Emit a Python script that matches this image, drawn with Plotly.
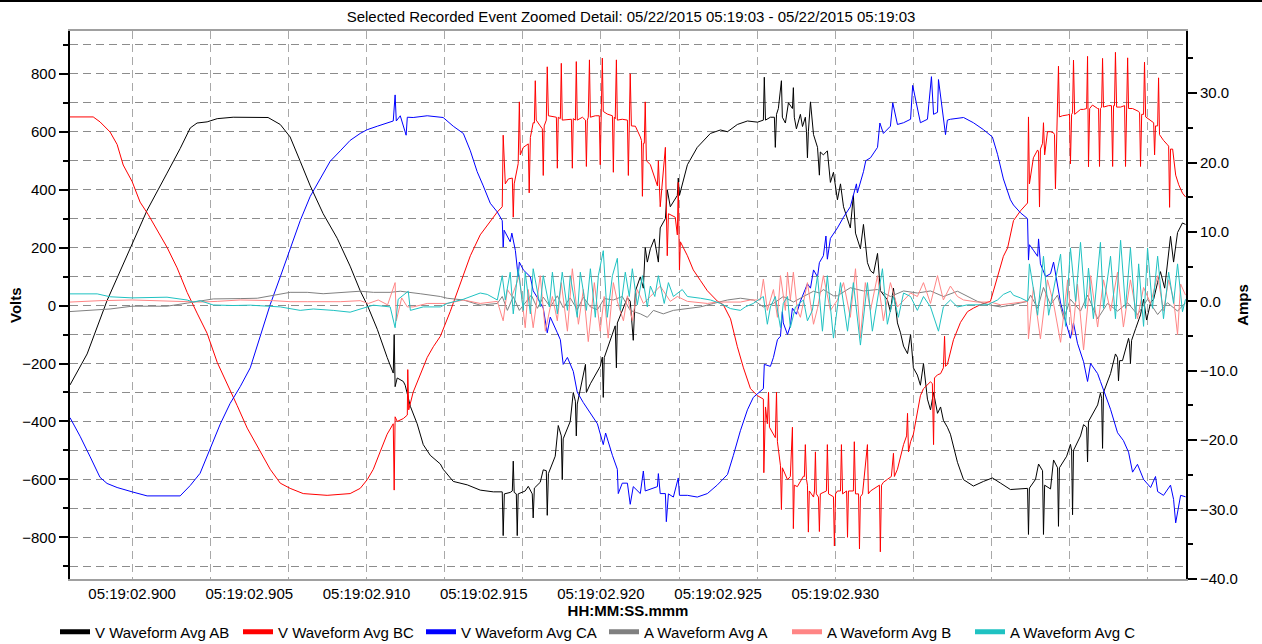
import plotly.graph_objects as go

TITLE = "Selected Recorded Event Zoomed Detail: 05/22/2015 05:19:03 - 05/22/2015 05:19:03"
# time axis: milliseconds after 05:19:02.900
TICK_MS = [0, 5, 10, 15, 20, 25, 30]
TICK_LABELS = ["05:19:02.900", "05:19:02.905", "05:19:02.910", "05:19:02.915",
               "05:19:02.920", "05:19:02.925", "05:19:02.930"]

NAMES = ["V Waveform Avg AB", "V Waveform Avg BC", "V Waveform Avg CA",
         "A Waveform Avg A", "A Waveform Avg B", "A Waveform Avg C"]
COLORS = ["#000000", "#ff0000", "#0000ff", "#808080", "#ff8585", "#1fc2c2"]

# [time ms, volts]
V_AB = [[-2.65,-274],[-1.92,-167],[-1.07,17],[0,216],[0.64,329],[1.49,457],[2.05,542],[2.48,613],[2.77,630],[3.20,634],[3.63,645],[4.31,650],[5.80,649],[6.32,625],[6.74,582],[7.17,498],[7.60,413],[8.15,317],[8.75,232],[9.30,136],[9.73,51],[10.03,2],[10.46,-82],[10.88,-179],[11.14,-233],[11.18,-100],[11.22,-280],[11.31,-250],[11.44,-255],[11.57,-262],[11.65,-275],[11.87,-348],[12.16,-408],[12.42,-480],[12.72,-517],[13.15,-547],[13.27,-565],[13.70,-607],[14.30,-619],[14.85,-637],[15.41,-643],[15.79,-643],
        [15.83,-794],[15.88,-650],[16.13,-645],[16.22,-640],[16.26,-537],[16.30,-645],[16.39,-650],[16.43,-794],[16.47,-650],[16.77,-640],[16.90,-624],[16.99,-640],[17.07,-650],[17.11,-733],[17.16,-630],[17.41,-610],[17.54,-567],[17.67,-570],[17.71,-724],[17.76,-580],[18.05,-520],[18.18,-414],[18.31,-450],[18.35,-601],[18.39,-460],[18.69,-400],[18.82,-300],[18.91,-330],[18.95,-450],[18.99,-340],[19.34,-203],[19.38,-300],[19.55,-270],[19.97,-210],[20.06,-178],[20.10,-317],[20.14,-180],[20.61,-70],[20.66,-215],[20.70,-60],[21.13,27],[21.25,15],[21.38,-120],[21.47,50],[21.68,99],[21.81,60],[21.89,200],[21.98,150],[22.11,196],[22.28,230],[22.45,150],[22.53,268],[22.75,300],[22.83,400],[22.96,341],[23.26,380],[23.30,440],[23.35,380],[23.69,486],[24.11,546],[24.67,594],[25.10,606],[25.40,600],[25.82,625],[26.25,637],[26.68,633],[26.93,640],
        [26.97,788],[27.02,640],[27.23,650],[27.40,650],[27.44,546],[27.49,660],[27.57,680],[27.70,776],[27.74,650],[27.87,630],[28.00,700],[28.17,680],[28.21,752],[28.25,650],[28.34,610],[28.51,660],[28.60,618],[28.72,650],[28.77,600],[28.81,510],[28.85,600],[28.94,703],[29.07,590],[29.24,546],[29.32,450],[29.36,530],[29.49,520],[29.66,534],[29.79,425],[29.92,460],[30.09,365],[30.22,420],[30.35,341],[30.52,300],[30.64,268],[30.77,380],[30.86,250],[31.07,196],[31.20,280],[31.37,148],[31.50,120],[31.63,111],[31.80,180],[31.92,51],[32.22,20],[32.35,-21],[32.48,60],[32.65,-60],[32.78,-94],[32.91,-140],[33.08,-166],[33.21,-100],[33.33,-215],[33.50,-240],[33.63,-275],[33.76,-200],[33.93,-323],[34.06,-360],[34.19,-300],[34.36,-372],[34.49,-350],[34.61,-396],[34.78,-420],[34.91,-444],[35.21,-541],[35.47,-601],[35.89,-623],[36.32,-607],[36.70,-595],[37.05,-613],[37.47,-635],[38.20,-631],
        [38.24,-790],[38.28,-630],[38.54,-600],[38.67,-547],[38.84,-570],[38.88,-790],[38.93,-620],[39.18,-633],[39.31,-533],[39.48,-560],[39.52,-762],[39.56,-560],[39.87,-520],[40.03,-479],[40.08,-500],[40.12,-722],[40.16,-500],[40.46,-450],[40.59,-411],[40.72,-420],[40.76,-540],[40.80,-400],[41.19,-343],[41.31,-302],[41.36,-320],[41.40,-493],[41.44,-300],[41.74,-235],[41.95,-167],[42.04,-180],[42.08,-260],[42.13,-190],[42.25,-190],[42.51,-113],[42.55,-130],[42.59,-200],[42.64,-120],[42.81,-80],[43.02,-32],[43.15,22],[43.28,-50],[43.45,10],[43.58,22],[43.75,80],[43.87,117],[44.05,60],[44.17,144],[44.30,239],[44.43,150],[44.60,252],[44.81,285],[44.94,280]]

V_BC = [[-2.65,651],[-1.66,651],[-1.37,634],[-0.94,599],[-0.64,556],[-0.38,485],[0,428],[0.34,357],[0.68,315],[1.07,258],[1.49,201],[1.92,130],[2.35,45],[2.77,-26],[3.20,-96],[3.63,-196],[4.05,-267],[4.48,-345],[4.91,-423],[5.46,-505],[5.89,-565],[6.32,-613],[6.74,-631],[7.30,-649],[8.32,-655],[9.30,-649],[9.73,-631],[10.03,-601],[10.29,-565],[10.58,-505],[10.88,-444],[11.14,-408],[11.18,-637],[11.22,-384],[11.31,-400],[11.57,-390],[11.74,-378],[11.76,-221],[11.80,-360],[11.99,-299],[12.29,-239],[12.59,-179],[12.85,-142],[13.15,-106],[13.57,-21],[14.00,75],[14.43,172],[14.85,244],[15.28,293],[15.58,323],[15.79,341],
        [15.83,588],[15.92,420],[16.05,437],[16.22,440],[16.26,305],[16.30,420],[16.43,483],[16.47,490],[16.52,703],[16.56,520],[16.69,546],[16.86,555],[16.90,558],[16.94,389],[16.99,580],[17.11,631],[17.16,630],[17.20,776],[17.24,640],[17.41,620],[17.50,610],[17.54,449],[17.58,620],[17.67,640],[17.71,824],[17.76,655],[18.10,650],[18.14,474],[18.18,650],[18.27,645],[18.31,836],[18.35,640],[18.74,643],[18.78,474],[18.82,645],[18.91,640],[18.95,842],[18.99,640],[19.21,650],[19.34,640],[19.38,480],[19.42,640],[19.46,650],[19.51,848],[19.55,650],[19.76,655],[19.93,655],[19.97,486],[20.02,660],[20.06,854],[20.10,670],[20.27,661],[20.49,655],[20.53,460],[20.57,650],[20.61,645],[20.66,848],[20.70,640],[20.91,643],[21.13,640],[21.17,449],[21.21,620],[21.25,800],[21.30,620],[21.47,619],[21.68,582],[21.73,570],[21.77,377],[21.81,560],[21.85,560],[21.89,703],[21.94,500],[22.11,486],[22.41,413],[22.45,500],[22.53,341],[22.75,546],[22.79,330],[22.83,172],[22.88,317],[23.17,305],[23.26,244],[23.30,425],[23.35,123],[23.39,220],[23.69,172],[23.94,123],[24.24,87],[24.54,51],[24.97,15],[25.22,3],[25.53,-46],[25.82,-142],[26.08,-215],[26.38,-287],[26.68,-311],[26.93,-323],
        [26.95,-577],[27.02,-350],[27.10,-408],[27.15,-299],[27.19,-420],[27.44,-456],[27.49,-299],[27.53,-470],[27.66,-553],[27.70,-704],[27.74,-560],[27.96,-601],[28.08,-590],[28.17,-420],[28.21,-770],[28.25,-620],[28.38,-625],[28.64,-589],[28.68,-590],[28.72,-480],[28.77,-600],[28.81,-620],[28.85,-782],[28.89,-640],[29.07,-661],[29.11,-640],[29.15,-505],[29.19,-650],[29.28,-661],[29.32,-780],[29.36,-650],[29.62,-640],[29.66,-480],[29.71,-650],[29.92,-660],[29.96,-830],[30.01,-650],[30.09,-640],[30.22,-640],[30.26,-480],[30.31,-650],[30.48,-640],[30.52,-800],[30.56,-640],[30.77,-640],[30.81,-470],[30.86,-650],[30.99,-650],[31.03,-840],[31.07,-660],[31.16,-650],[31.37,-480],[31.41,-650],[31.50,-640],[31.88,-620],[31.92,-850],[31.97,-620],[32.05,-610],[32.22,-600],[32.39,-590],[32.48,-510],[32.52,-590],[32.65,-565],[32.91,-480],[33.04,-450],[33.08,-372],[33.12,-505],[33.21,-470],[33.33,-444],[33.50,-372],[33.63,-311],[33.76,-287],[34.06,-263],[34.14,-270],[34.19,-480],[34.23,-250],[34.36,-239],[34.49,-235],[34.61,-215],[34.66,-106],[34.70,-210],[34.78,-203],[35.04,-118],[35.34,-58],[35.64,-21],[35.89,-9],[36.19,3],[36.62,15],[36.92,99],[37.17,170],[37.35,199],[37.60,293],[37.90,327],[38.20,354],
        [38.24,651],[38.28,420],[38.45,510],[38.63,537],[38.67,530],[38.71,340],[38.75,540],[38.84,560],[38.88,631],[38.93,520],[39.05,600],[39.18,600],[39.31,596],[39.35,590],[39.39,403],[39.44,600],[39.48,640],[39.52,826],[39.56,651],[39.69,655],[39.91,658],[39.99,660],[40.03,489],[40.08,660],[40.12,665],[40.16,847],[40.21,660],[40.46,677],[40.59,677],[40.72,680],[40.76,860],[40.80,479],[40.85,680],[40.97,692],[41.19,680],[41.23,680],[41.27,480],[41.31,680],[41.36,685],[41.40,853],[41.44,685],[41.66,690],[41.78,690],[41.83,480],[41.87,690],[41.91,690],[41.95,874],[42.00,685],[42.17,685],[42.34,690],[42.38,480],[42.42,690],[42.47,855],[42.51,680],[42.68,680],[42.94,670],[42.98,665],[43.02,480],[43.07,660],[43.15,660],[43.19,840],[43.24,651],[43.45,640],[43.58,631],[43.62,520],[43.66,620],[43.75,620],[43.79,786],[43.83,590],[44.00,570],[44.17,555],[44.22,550],[44.26,339],[44.30,540],[44.39,540],[44.52,450],[44.65,417],[44.81,388],[44.94,375]]

V_CA = [[-2.65,-387],[-2.22,-451],[-1.79,-522],[-1.37,-593],[-1.07,-614],[-0.64,-628],[0,-643],[0.64,-657],[2.05,-657],[2.48,-621],[2.90,-579],[3.33,-494],[3.76,-409],[4.18,-338],[4.61,-280],[5.04,-215],[5.46,-106],[5.89,3],[6.32,99],[6.74,196],[7.17,293],[7.60,377],[8.02,437],[8.45,498],[8.88,534],[9.30,570],[9.73,594],[10.03,607],[10.46,619],[10.88,631],[11.14,637],[11.22,727],[11.27,637],[11.44,655],[11.69,588],[11.74,650],[11.99,649],[12.59,655],[13.15,649],[13.27,649],[13.70,619],[14.13,594],[14.43,534],[14.72,462],[14.98,413],[15.28,353],[15.58,323],[15.79,293],
        [15.83,202],[15.87,260],[16.13,220],[16.20,250],[16.35,190],[16.47,99],[16.52,150],[16.69,123],[16.99,99],[17.11,51],[17.29,27],[17.54,-9],[17.71,-94],[17.84,-40],[18.14,-94],[18.27,-118],[18.39,-203],[18.57,-179],[18.82,-227],[18.99,-299],[19.25,-335],[19.55,-372],[19.85,-408],[20.10,-480],[20.20,-440],[20.49,-517],[20.70,-565],[20.74,-649],[20.91,-613],[21.13,-613],[21.25,-686],[21.38,-625],[21.68,-649],[21.81,-571],[21.89,-640],[22.41,-625],[22.45,-580],[22.53,-649],[22.75,-649],[22.79,-746],[22.88,-650],[23.09,-661],[23.30,-595],[23.35,-655],[23.69,-655],[24.11,-661],[24.54,-649],[24.97,-619],[25.40,-583],[25.65,-517],[25.95,-432],[26.25,-360],[26.50,-317],[26.93,-287],
        [26.97,-203],[27.23,-210],[27.36,-179],[27.53,-118],[27.66,-106],[27.74,-21],[27.78,-60],[27.96,-100],[28.08,-70],[28.17,-9],[28.34,-30],[28.51,15],[28.64,39],[28.81,75],[28.94,60],[29.07,123],[29.24,99],[29.32,148],[29.49,172],[29.60,240],[29.66,160],[29.79,232],[30.09,268],[30.35,305],[30.64,341],[30.90,420],[30.94,389],[31.20,462],[31.30,500],[31.50,510],[31.80,546],[31.90,630],[32.05,594],[32.35,619],[32.45,700],[32.65,625],[32.91,631],[33.21,643],[33.30,760],[33.63,631],[33.93,643],[34.10,790],[34.19,660],[34.36,667],[34.40,780],[34.61,655],[34.70,590],[34.78,640],[34.91,643],[35.47,649],[35.89,631],[36.32,607],[36.70,582],[36.92,522],[37.17,437],[37.47,365],[37.60,347],[37.90,320],[38.20,300],
        [38.24,157],[38.28,210],[38.45,191],[38.63,170],[38.67,230],[38.75,144],[38.97,100],[39.18,110],[39.31,150],[39.48,63],[39.61,9],[39.74,-30],[40.03,-113],[40.16,-60],[40.33,-130],[40.59,-194],[40.76,-262],[40.89,-200],[41.19,-235],[41.31,-262],[41.74,-358],[42.04,-439],[42.29,-466],[42.51,-506],[42.68,-575],[42.89,-548],[43.15,-600],[43.45,-628],[43.66,-590],[43.75,-642],[44.00,-655],[44.30,-620],[44.43,-669],[44.52,-750],[44.73,-655],[44.94,-660]]

# [time ms, amps]
I_A = [[-2.65,-1.47],[-1.37,-1.2],[-0.94,-1.1],[0,-0.7],[0.77,-0.7],[1.49,-0.7],[2.35,-0.25],[2.90,0.1],[3.46,0.35],[4.61,0.4],[5.34,0.45],[6.74,1.3],[7.47,1.3],[8.15,1.1],[8.88,1.3],[9.73,1.46],[10.29,1.3],[11.01,1.3],[11.44,1.46],[11.74,1.3],[12.29,1.1],[13.15,0.7],[13.44,0.45],[14.13,0.2],[14.85,-0.55],[15.58,-0.3],
       [15.79,0.7],[16.01,-1.3],[16.26,0.7],[16.52,-1.3],[16.77,-0.3],[17.03,0.9],[17.29,-1.0],[17.54,0.6],[17.84,-0.8],[18.14,0.8],[18.39,-0.9],[18.69,0.5],[18.99,-1.2],[19.25,0.6],[19.55,-0.8],[19.85,-1.2],[20.14,0.4],[20.53,0.2],[20.91,0.7],[21.25,-1.3],[21.68,-1.8],[21.98,-2.3],[22.24,-1.3],[22.66,-1.8],[23.09,-1.3],[23.69,-1.0],[24.24,-0.8],[24.80,-0.3],[25.40,0.2],[25.95,0.45],[26.50,0.2],[26.93,-0.8],[27.36,-0.3],[27.78,0.7],[28.21,-0.1],[28.64,0.7],[29.07,1.46],[29.32,1.2],[29.49,1.7],[29.92,0.8],[30.09,0.8],[30.64,1.96],[31.20,1.5],[31.80,1.7],[32.35,0.7],[32.91,1.5],[33.50,1.2],[34.06,1.5],[34.61,0.7],[35.21,1.46],[35.64,0.7],[36.06,0],[36.62,-0.55],[37.05,-0.8],[37.47,-0.55],[38.20,0],
       [38.33,0.9],[38.63,-1.0],[38.88,2.0],[39.18,-0.5],[39.48,0.9],[39.74,-2.5],[40.03,0.3],[40.46,-1.4],[40.76,0.9],[41.19,-2.5],[41.61,-0.3],[42.04,-1.4],[42.47,-0.2],[42.89,-1.9],[43.32,0.3],[43.75,-1.9],[44.17,-0.2],[44.60,-1.4],[44.94,-0.2]]

I_B = [[-2.65,-0.1],[-1.37,0.1],[0,0.2],[1.49,0.1],[2.90,-0.1],[3.63,0],[4.61,0.2],[6.02,0.1],[6.74,-0.05],[7.47,-0.05],[8.88,-0.05],[9.73,0.1],[10.08,-0.3],[10.5,0.2],[10.9,-0.5],[11.22,2.7],[11.27,-2.8],[11.50,0.5],[11.74,-0.8],[11.99,-0.8],[12.59,-0.3],[13.44,-0.3],[14.13,0.2],[14.85,-0.3],[15.58,0.0],
       [15.83,-2.8],[16.01,1.7],[16.20,0.7],[16.52,3.7],[16.77,-3.8],[16.90,1.7],[17.11,-3.8],[17.41,3.7],[17.63,-4.3],[17.93,0.7],[18.14,-2.8],[18.31,2.7],[18.57,-4.3],[18.78,4.7],[19.04,-3.3],[19.25,1.7],[19.46,-5.8],[19.72,2.7],[19.97,-4.3],[20.14,0.7],[20.31,-5.3],[20.53,2.7],[20.70,0.0],[20.96,-2.8],[21.13,0.8],[21.34,-2.8],[21.55,1.7],[21.81,-0.3],[22.11,0.7],[22.53,2.2],[22.96,0],[23.26,0.7],[23.69,0],[24.11,-0.1],[24.54,-0.3],[24.97,-0.1],[25.53,-0.1],[25.95,-0.1],[26.38,0.2],[26.80,0.2],[26.93,3.2],[27.10,-1.3],[27.36,1.7],[27.53,-2.3],[27.66,3.7],[27.87,-1.3],[27.96,4.2],[28.08,0.2],[28.21,4.2],[28.38,-1.3],[28.51,-2.3],[28.81,2.7],[29.07,-3.3],[29.24,-1.0],[29.49,3.7],[29.79,-1.3],[30.09,0.2],[30.35,2.7],[30.64,-2.3],[30.86,4.7],[31.07,-5.3],[31.28,2.7],[31.50,-1.3],[31.80,3.7],[32.05,-2.8],[32.35,2.7],[32.65,-0.8],[32.91,0.2],[33.21,1.2],[33.50,0.7],[33.76,2.7],[34.06,-0.3],[34.36,3.7],[34.61,0.2],[34.91,2.2],[35.21,0.7],[35.47,0.2],[36.06,-0.1],[36.62,-0.1],[37.05,-0.5],[37.47,-0.3],[38.20,0],
       [38.24,-5.4],[38.45,2.0],[38.75,-5.4],[39.05,3.1],[39.31,-0.3],[39.61,-5.9],[39.91,3.1],[40.12,-4.8],[40.33,2.5],[40.59,-7.0],[40.89,3.7],[41.19,-3.7],[41.44,3.1],[41.74,-1.4],[42.04,4.2],[42.29,-3.7],[42.59,3.1],[42.89,-2.5],[43.15,2.0],[43.45,-0.3],[43.75,3.7],[44.00,-1.4],[44.22,3.1],[44.43,0.3],[44.60,-4.8],[44.73,2.5],[44.94,0.9]]

I_C = [[-2.65,1.08],[-1.49,1.08],[-0.94,0.66],[0,0.5],[1.49,0.6],[2.35,0.19],[2.60,-0.1],[2.90,0.1],[3.46,-0.52],[4.31,-0.6],[5.04,-0.55],[6.32,-0.8],[7.17,-1.3],[7.73,-1.1],[8.58,-1.3],[9.30,-1.56],[10.03,-0.8],[10.29,-0.55],[11.01,-0.8],[11.22,-3.8],[11.35,0.3],[11.78,1.46],[11.87,-1.3],[12.42,-0.8],[13.15,-0.8],[13.44,-0.3],[14.13,0.3],[14.85,1.2],[15.15,1.0],[15.58,0.2],
       [15.79,3.7],[15.92,0.2],[16.13,4.2],[16.26,-1.8],[16.47,4.7],[16.69,-1.3],[16.77,4.2],[16.99,-1.8],[17.11,4.7],[17.41,-0.8],[17.54,3.7],[17.80,-0.8],[17.93,4.2],[18.14,-1.8],[18.35,4.2],[18.57,-1.3],[18.69,3.7],[18.99,-2.3],[19.12,4.2],[19.38,-1.3],[19.55,4.7],[19.76,-2.3],[19.89,3.7],[20.10,7.3],[20.27,-2.3],[20.49,3.7],[20.70,6.2],[20.83,-1.3],[21.04,4.2],[21.21,0.7],[21.34,4.7],[21.55,-0.5],[21.77,3.7],[21.98,-0.8],[22.11,2.2],[22.30,0.7],[22.45,3.7],[22.70,-0.3],[22.88,2.7],[23.09,0.7],[23.47,1.7],[23.69,0.7],[24.24,0.45],[24.67,0.2],[25.10,-0.3],[25.53,-1.05],[25.95,-1.3],[26.16,-0.8],[26.50,-0.3],[26.93,0.7],
       [27.10,-3.3],[27.23,-0.8],[27.44,0.7],[27.66,-3.8],[27.78,-0.3],[27.96,0.7],[28.08,-3.8],[28.30,-0.8],[28.64,0.2],[28.81,-2.8],[29.02,-1.3],[29.24,3.7],[29.45,-4.3],[29.66,3.7],[29.92,-5.3],[30.22,2.7],[30.52,-4.3],[30.77,2.7],[31.07,-6.3],[31.37,2.7],[31.58,-4.3],[31.80,0.2],[32.01,4.7],[32.22,-3.3],[32.48,0.7],[32.69,-2.3],[32.91,1.2],[33.21,0.7],[33.50,-1.3],[33.76,0.7],[34.06,-0.8],[34.40,-4.3],[34.61,-0.8],[34.91,0.2],[35.21,-0.8],[35.64,-0.5],[36.06,-0.5],[36.49,-0.5],[36.92,0.2],[37.17,1.0],[37.47,1.46],[37.60,0.88],[37.90,0.5],[38.20,0],
       [38.28,5.4],[38.63,-2.0],[38.88,6.5],[39.10,-2.0],[39.39,3.1],[39.61,6.8],[39.82,-3.6],[40.03,7.7],[40.25,0],[40.46,8.5],[40.67,-1.0],[40.80,4.8],[41.01,-2.5],[41.31,8.5],[41.44,-1.0],[41.74,6.5],[41.95,-2.5],[42.17,8.8],[42.38,-1.0],[42.59,7.7],[42.81,-2.5],[42.94,5.4],[43.15,-3.6],[43.32,7.7],[43.53,-1.0],[43.75,6.5],[44.00,-2.5],[44.22,4.2],[44.43,-0.3],[44.60,5.4],[44.81,-1.5],[44.94,0.3]]

SERIES = [V_AB, V_BC, V_CA, I_A, I_B, I_C]
AXES = ["y", "y", "y", "y2", "y2", "y2"]

FONT = "Liberation Sans, Arial, sans-serif"
fig = go.Figure()
for name, color, data, ax in zip(NAMES, COLORS, SERIES, AXES):
    fig.add_trace(go.Scatter(x=[p[0] for p in data], y=[p[1] for p in data],
                             mode="lines", line=dict(color=color, width=1),
                             name=name, yaxis=ax, showlegend=False))
# legend entries with thick swatches
for name, color in zip(NAMES, COLORS):
    fig.add_trace(go.Scatter(x=[None], y=[None], mode="lines", name=name,
                             line=dict(color=color, width=5), showlegend=True))

grid_dash = "8px,5px"
fig.update_layout(
    width=1262, height=644,
    margin=dict(l=70, r=76, t=31, b=65, autoexpand=False),
    paper_bgcolor="white", plot_bgcolor="white",
    font=dict(family=FONT, size=15, color="black"),
    title=dict(text=TITLE, x=0.5, xref="container", xanchor="center",
               y=1 - 17 / 644, yanchor="middle", font=dict(size=15)),
    showlegend=True,
    legend=dict(orientation="h", x=-15 / 1116, xanchor="left", y=-53 / 548, yanchor="middle",
                entrywidth=138, entrywidthmode="pixels", font=dict(size=15),
                bgcolor="rgba(0,0,0,0)", itemwidth=30, tracegroupgap=0),
    xaxis=dict(range=[-2.65, 44.96], tickmode="array", tickvals=TICK_MS, ticktext=TICK_LABELS,
               showgrid=False, ticks="", showline=True, linecolor="#a0a0a0", linewidth=2,
               mirror=True, zeroline=False, automargin=False,
               minor=dict(tickmode="linear", tick0=0, dtick=10 / 3, showgrid=True,
                          gridcolor="#a8a8a8", griddash=grid_dash, gridwidth=1, ticks=""),
               title=dict(text="<b>HH:MM:SS.mmm</b>", standoff=0, font=dict(size=15))),
    yaxis=dict(range=[-943.8, 947.6], tick0=0, dtick=200, ticks="outside", ticklen=9,
               tickwidth=2, tickcolor="black", showline=True, linecolor="black", linewidth=2,
               showgrid=True, gridcolor="#8c8c8c", griddash=grid_dash, gridwidth=1,
               zeroline=False, automargin=False,
               minor=dict(tick0=0, dtick=100, ticks="outside", ticklen=5, tickwidth=2,
                          tickcolor="black", showgrid=True, gridcolor="#8c8c8c",
                          griddash=grid_dash, gridwidth=1)),
    yaxis2=dict(range=[-40, 38.95], overlaying="y", side="right", tick0=0, dtick=10,
                tickformat=".1f", ticks="outside", ticklen=9, tickwidth=2, tickcolor="black",
                showline=True, linecolor="black", linewidth=2, showgrid=False, zeroline=False,
                automargin=False,
                minor=dict(tick0=0, dtick=5, ticks="outside", ticklen=5, tickwidth=2,
                           tickcolor="black"),
                title=dict(text="<b>Amps</b>", standoff=1, font=dict(size=15))),
)
# left axis title placed as an annotation so it sits where the reference has it
fig.add_annotation(text="<b>Volts</b>", xref="paper", yref="paper", x=-55 / 1116, y=0.5,
                   xanchor="center", yanchor="middle", textangle=-90, showarrow=False,
                   font=dict(size=15, family=FONT, color="black"))
# thin dark frame line at the very top of the image
fig.add_shape(type="line", xref="paper", yref="paper",
              x0=-70 / 1116, x1=(1262 - 70) / 1116, y0=1 + 30 / 548, y1=1 + 30 / 548,
              line=dict(color="black", width=2))

fig.write_html("out.html")
